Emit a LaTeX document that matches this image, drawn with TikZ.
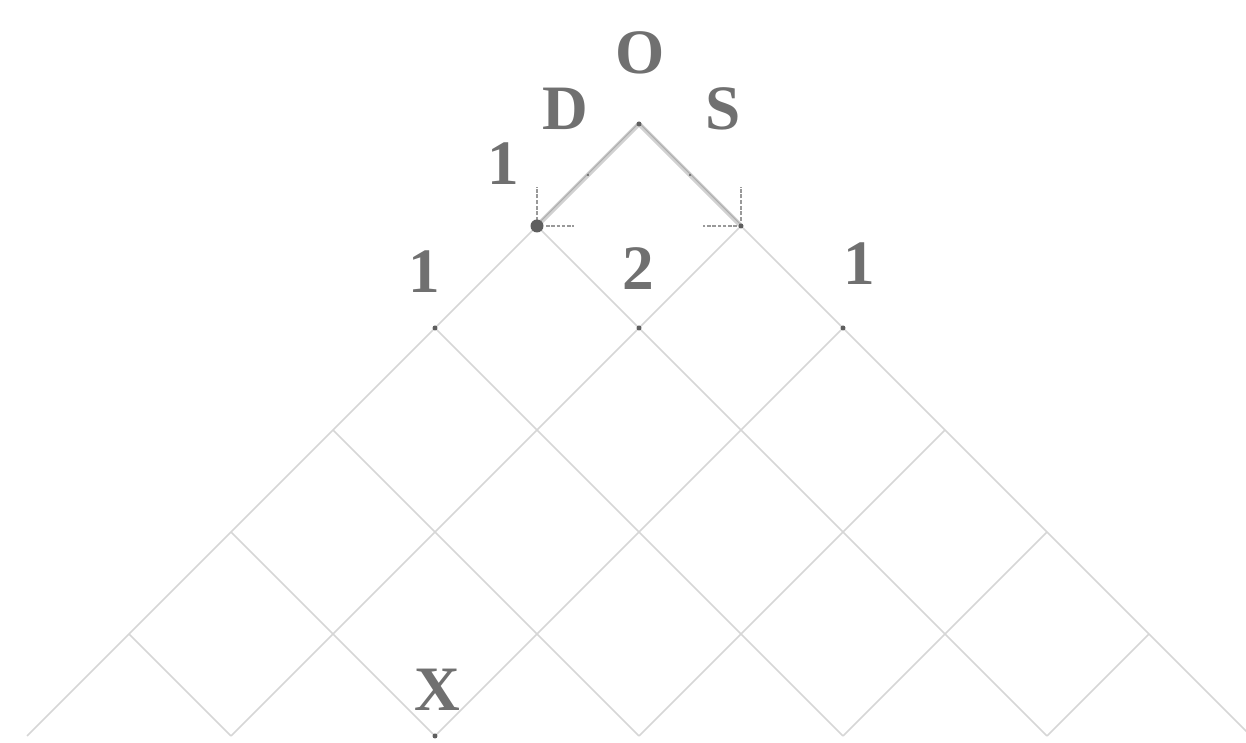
\documentclass[tikz,border=0pt]{standalone}
\usepackage{fontspec}
\setmainfont{Liberation Serif}
\usetikzlibrary{calc}
\definecolor{txtgray}{RGB}{112,112,112}
\definecolor{gridgray}{RGB}{214,214,214}
\definecolor{dotgray}{RGB}{95,95,95}
\begin{document}
\begin{tikzpicture}[x=1cm,y=1cm,
  gridline/.style={draw=gridgray,line width=0.45pt},
  hiline/.style={draw=black!18,line width=1.3pt},
  hicore/.style={draw=black!32,line width=0.3pt},
  tickline/.style={draw=black!40,line width=0.35pt},
  lbl/.style={text=txtgray,font=\fontsize{18}{20}\selectfont\bfseries,anchor=base,inner sep=0pt},
  smalldot/.style={fill=dotgray},
]
\useasboundingbox (0,0) rectangle (12.46,7.43);
\clip (0,0) rectangle (12.46,7.43);
% lattice points
\foreach \k in {0,...,6}{
  \foreach \j in {0,...,\k}{
    \coordinate (p\k-\j) at ({6.39+(2*\j-\k)*1.02},{6.19-\k*1.02});
  }
}
% grid lines
\foreach \k in {1,...,5}{
  \pgfmathtruncatemacro{\e}{6-\k}
  \draw[gridline] (p\k-0) -- (p6-\e);
  \draw[gridline] (p\k-\k) -- (p6-\k);
}
\draw[gridline] (p1-1) -- (p6-6);
\draw[gridline] (p1-0) -- (p6-0);
% highlighted first steps
\draw[hiline] (p0-0) -- (p1-0);
\draw[hiline] (p0-0) -- (p1-1);
\draw[hicore] ([yshift=0.3pt]p0-0) -- ([yshift=0.3pt]p1-0);
\draw[hicore] ([yshift=0.3pt]p0-0) -- ([yshift=0.3pt]p1-1);
\fill[dotgray] ($(p0-0)!0.5!(p1-0)$) circle (0.012);
\fill[dotgray] ($(p0-0)!0.5!(p1-1)$) circle (0.012);
% tick marks
\draw[tickline,dash pattern=on 1.2pt off 0.4pt] (p1-0) ++(0,0.05) -- ++(0,0.34);
\draw[tickline,dash pattern=on 1pt off 0.5pt] (p1-0) ++(0.09,0) -- ++(0.28,0);
\draw[tickline,dash pattern=on 1.2pt off 0.4pt] (p1-1) ++(0,0.05) -- ++(0,0.34);
\draw[tickline,dash pattern=on 1pt off 0.5pt] (p1-1) ++(-0.04,0) -- ++(-0.34,0);
% dots
\fill[dotgray] (p1-0) circle (0.065);
\foreach \p in {p0-0,p1-1,p2-0,p2-1,p2-2,p6-2}{
  \fill[smalldot] (\p) circle (0.025);
}
% labels
\node[lbl] (lO) at (6.40,6.69) {O};
\node[lbl] (lD) at (5.65,6.13) {D};
\node[lbl] (lS) at (7.23,6.13) {S};
\node[lbl] (l1a) at (5.03,5.58) {1};
\node[lbl] (l1b) at (4.24,4.50) {1};
\node[lbl] (l2) at (6.38,4.53) {2};
\node[lbl] (l1c) at (8.59,4.58) {1};
\node[lbl] (lX) at (4.37,0.32) {X};
\end{tikzpicture}
\end{document}
